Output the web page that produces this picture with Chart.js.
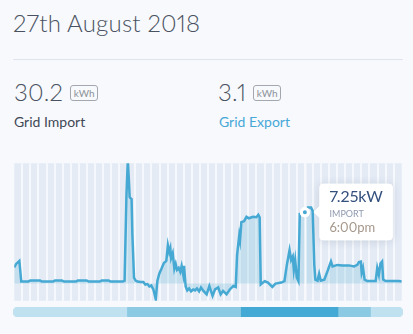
<!DOCTYPE html>
<html>
<head>
<meta charset="utf-8">
<script src="https://cdn.jsdelivr.net/npm/chart.js@4.4.1/dist/chart.umd.min.js"></script>
<style>
  html, body { margin: 0; padding: 0; }
  body {
    width: 413px; height: 334px; position: relative; overflow: hidden;
    background: #f7f9fc; font-family: Lato, "Open Sans", sans-serif;
    font-variant-numeric: proportional-nums;
  }
  .day { position: absolute; left: 13px; top: 11px; font-size: 24px; font-weight: 300; color: #4a5261; line-height: 1; letter-spacing: 0.2px; }
  .rule { position: absolute; left: 13px; top: 59px; width: 390px; height: 1px; background: #dfe5ee; }
  .stat { position: absolute; top: 80px; display: flex; align-items: center; gap: 7px; }
  .total { font-size: 24px; font-weight: 300; color: #4a5261; line-height: 24px; letter-spacing: 0.3px; }
  .unit {
    width: 26px; height: 14px; border: 1px solid #a3a8b0; border-radius: 3px; margin-top: 2px;
    font-size: 10px; line-height: 14px; text-align: center; color: #8d929a;
  }
  .label { position: absolute; top: 115px; font-size: 14px; line-height: 1; }
  #usage { position: absolute; left: 13px; top: 162px; width: 390px; height: 140px; }
  #tariff { position: absolute; left: 13px; top: 307px; width: 390px; height: 10px; }
</style>
</head>
<body>
<div class="day" id="day"></div>
<div class="rule"></div>
<div class="stat" style="left:14px"><span class="total" id="importTotal"></span><span class="unit">kWh</span></div>
<div class="label" style="left:14px;color:#404856">Grid Import</div>
<div class="stat" style="left:218px"><span class="total" id="exportTotal"></span><span class="unit">kWh</span></div>
<div class="label" style="left:219px;color:#47a8d8">Grid Export</div>
<div id="usage"><canvas id="usageChart"></canvas></div>
<div id="tariff"><canvas id="tariffChart"></canvas></div>
<script>
const dayLabel = '27th August 2018';
const importTotal = 30.2;
const exportTotal = 3.1;

// grid power, minutes after midnight -> kW (negative = exporting)
const sampleMinutes = [
  0, 7, 19, 26, 52, 59, 96, 103, 144, 151, 177, 185, 229, 236, 269, 277, 317, 325, 351, 358,
  403, 410, 417, 422, 426, 429, 432, 436, 439, 445, 451, 458, 469, 480, 487, 495, 502, 509, 517, 526,
  532, 539, 547, 556, 565, 571, 576, 580, 583, 589, 595, 600, 605, 611, 617, 622, 628, 631, 637, 643,
  650, 657, 665, 672, 679, 687, 694, 703, 715, 725, 737, 746, 758, 767, 776, 789, 801, 814, 823, 828,
  836, 839, 844, 854, 863, 872, 887, 900, 907, 912, 916, 931, 943, 959, 971, 992, 1004, 1013, 1023, 1029,
  1035, 1039, 1044, 1050, 1056, 1061, 1080, 1090, 1103, 1109, 1115, 1119, 1127, 1133, 1139, 1152, 1164, 1177, 1183, 1201,
  1220, 1244, 1263, 1275, 1281, 1288, 1291, 1296, 1302, 1312, 1343, 1349, 1355, 1361, 1367, 1371, 1380, 1404, 1429, 1440
];
const gridKw = [
  1.65, 2.0, 2.3, 0.2, 0.2, 0.3, 0.3, 0.2, 0.2, 0.3, 0.3, 0.2, 0.2, 0.3, 0.3, 0.2, 0.2, 0.3, 0.3, 0.2,
  0.2, 0.3, 9.0, 12.6, 10.5, 8.8, 8.7, 8.6, 5.0, 0.6, 0.3, 0.2, 0.15, 0.15, -0.1, -0.05, -0.3, -0.2, -0.6, -1.6,
  0.3, 1.0, 1.5, 2.1, 2.3, 3.9, 3.2, 3.6, 2.6, 3.1, 1.5, 2.0, 1.4, 1.6, 1.2, 1.8, 0.9, 1.8, -0.3, -0.7,
  -0.5, -0.8, -0.6, -0.7, -0.5, -0.8, -0.4, -0.75, -1.1, -0.25, -1.25, -0.6, -0.4, -1.1, -0.75, -1.1, -0.6, -0.25, -0.35, 2.9,
  4.9, 4.4, 6.25, 6.35, 6.8, 6.65, 6.8, 6.75, 7.0, 6.75, -0.08, 0.25, 0.1, -0.35, 0.0, 0.1, 0.25, 1.9, 3.4, 2.4,
  2.75, 1.4, 2.4, 0.6, 0.25, 7.1, 7.25, 7.75, 7.75, 7.4, 1.9, 0.4, 0.3, 1.0, 0.3, 0.4, 1.25, 2.25, 1.75, 1.9,
  1.85, 1.85, 1.75, 1.9, 2.2, 2.25, 1.1, 1.6, 0.4, 0.25, 0.25, 1.6, 0.9, 2.05, 2.25, 0.4, 0.25, 0.25, 0.25, 0.2
];
const selectedMinute = 1080;

// tariff periods across the day, in hours
const tariffNames = ['Off-peak', 'Shoulder', 'Peak', 'Shoulder', 'Off-peak'];
const tariffHours = [7, 7, 6, 2, 2];
const tariffColours = { 'Off-peak': '#c0e1f0', 'Shoulder': '#8ccae3', 'Peak': '#44a9d4' };

document.getElementById('day').textContent = dayLabel;
document.getElementById('importTotal').textContent = importTotal.toFixed(1);
document.getElementById('exportTotal').textContent = exportTotal.toFixed(1);

function fmtTime(m) {
  let h = Math.floor(m / 60), mm = m % 60;
  const ampm = h >= 12 ? 'pm' : 'am';
  h = h % 12 || 12;
  return h + ':' + String(mm).padStart(2, '0') + ampm;
}

const stripeBg = {
  id: 'stripeBg',
  beforeDraw(chart) {
    const { ctx, chartArea: a } = chart;
    ctx.save();
    ctx.fillStyle = '#e4ebf5';
    ctx.fillRect(a.left, a.top, a.right - a.left, a.bottom - a.top);
    ctx.restore();
  }
};

// white cursor line through the selected reading
const cursor = {
  id: 'cursor',
  afterDatasetsDraw(chart) {
    const act = chart.getActiveElements();
    if (!act.length) return;
    const el = act[0].element;
    const { ctx, chartArea: a } = chart;
    ctx.save();
    ctx.strokeStyle = '#f7f9fc';
    ctx.lineWidth = 2;
    ctx.beginPath();
    ctx.moveTo(Math.round(el.x) + 0.5, a.top);
    ctx.lineTo(Math.round(el.x) + 0.5, a.bottom);
    ctx.stroke();
    ctx.restore();
    el.draw(ctx, a);
  }
};

// soft shadow behind the tooltip box
const tipShadow = {
  id: 'tipShadow',
  beforeTooltipDraw(chart, args) {
    const t = args.tooltip;
    const { ctx } = chart;
    ctx.save();
    ctx.shadowColor = 'rgba(60,80,110,0.18)';
    ctx.shadowBlur = 10;
    ctx.shadowOffsetY = 1;
    ctx.fillStyle = '#fff';
    ctx.beginPath();
    ctx.roundRect(t.x, t.y, t.width, t.height, 4);
    ctx.fill();
    ctx.restore();
  }
};

const points = sampleMinutes.map((m, i) => ({ x: m, y: gridKw[i] }));

const usage = new Chart(document.getElementById('usageChart'), {
  type: 'line',
  data: {
    datasets: [{
      label: 'Grid',
      data: points,
      borderColor: '#45a9d3',
      borderWidth: 2.5,
      backgroundColor: 'rgba(69,169,211,0.2)',
      fill: 'origin',
      tension: 0,
      pointRadius: 0,
      pointHoverRadius: 3.5,
      pointHoverBorderWidth: 3,
      pointHoverBackgroundColor: '#45a9d3',
      pointHoverBorderColor: '#ffffff'
    }]
  },
  options: {
    responsive: true,
    maintainAspectRatio: false,
    animation: false,
    events: [],
    layout: { padding: 0 },
    scales: {
      x: {
        type: 'linear', min: 0, max: 1440,
        ticks: { display: false, stepSize: 30 },
        border: { display: false },
        grid: {
          drawTicks: false,
          lineWidth: 2,
          color: c => (c.tick.value === 0 || c.tick.value === 1440) ? 'rgba(0,0,0,0)' : '#f5f8fc'
        }
      },
      y: {
        min: -1.75, max: 12.25,
        ticks: { display: false, stepSize: 1 },
        border: { display: false },
        grid: {
          drawTicks: false,
          lineWidth: 2,
          color: c => c.tick.value === 0 ? '#f5f8fc' : 'rgba(0,0,0,0)'
        }
      }
    },
    plugins: {
      legend: { display: false },
      tooltip: {
        enabled: true,
        backgroundColor: '#ffffff',
        xAlign: 'left',
        yAlign: 'center',
        caretSize: 6,
        caretPadding: 8,
        cornerRadius: 4,
        displayColors: false,
        padding: { top: 4, bottom: 5, left: 10, right: 10 },
        titleColor: '#34507e',
        titleFont: { family: 'Lato', size: 16, weight: '400' },
        titleMarginBottom: 2,
        bodyColor: '#8f9aae',
        bodyFont: { family: 'Lato', size: 9 },
        footerColor: '#a4978c',
        footerFont: { family: 'Lato', size: 13, weight: '400' },
        footerMarginTop: 0,
        callbacks: {
          title: items => items[0].parsed.y + 'kW',
          label: () => 'IMPORT',
          footer: items => fmtTime(items[0].parsed.x)
        }
      }
    }
  },
  plugins: [stripeBg, cursor, tipShadow]
});

const sel = [{ datasetIndex: 0, index: sampleMinutes.indexOf(selectedMinute) }];
usage.setActiveElements(sel);
usage.tooltip.setActiveElements(sel, { x: 0, y: 0 });
usage.update();

function corner(i) {
  if (i === 0) return { topLeft: 5, bottomLeft: 5, topRight: 0, bottomRight: 0 };
  if (i === tariffHours.length - 1) return { topLeft: 0, bottomLeft: 0, topRight: 5, bottomRight: 5 };
  return 0;
}

new Chart(document.getElementById('tariffChart'), {
  type: 'bar',
  data: {
    labels: ['Tariff'],
    datasets: tariffHours.map((h, i) => ({
      label: tariffNames[i],
      data: [h],
      backgroundColor: tariffColours[tariffNames[i]],
      borderWidth: 0,
      borderRadius: corner(i),
      borderSkipped: false,
      barPercentage: 1,
      categoryPercentage: 1
    }))
  },
  options: {
    indexAxis: 'y',
    responsive: true,
    maintainAspectRatio: false,
    animation: false,
    events: [],
    layout: { padding: 0 },
    scales: {
      x: { stacked: true, min: 0, max: 24, display: false },
      y: { stacked: true, display: false }
    },
    plugins: { legend: { display: false }, tooltip: { enabled: false } }
  }
});
</script>
</body>
</html>
